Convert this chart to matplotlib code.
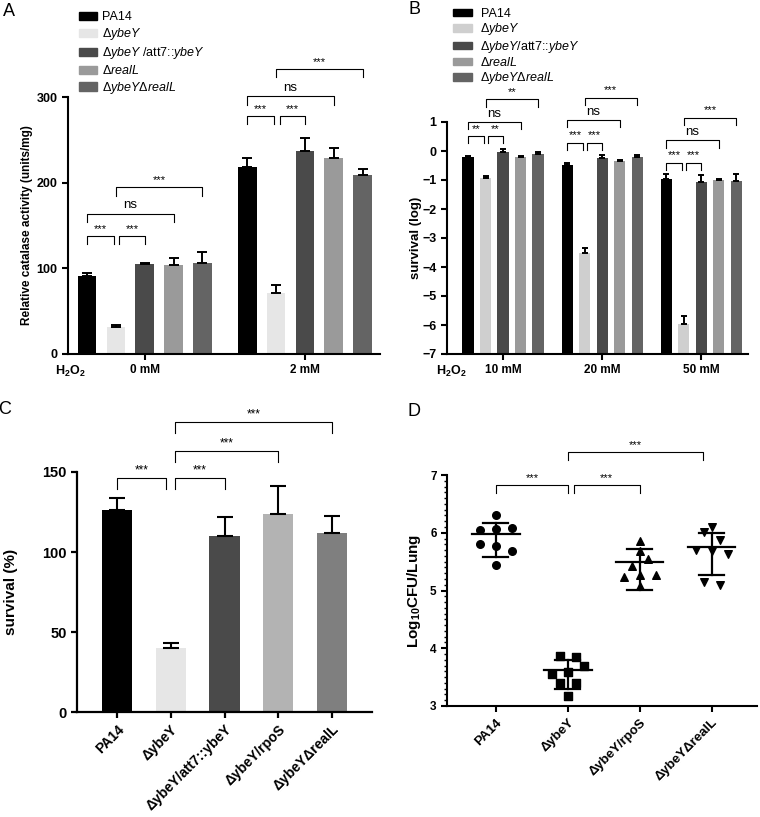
"""Four-panel figure: catalase activity, H2O2 survival, survival (%), lung CFU."""

import matplotlib
matplotlib.use("Agg")
import matplotlib.pyplot as plt
import numpy as np
from matplotlib.patches import Patch
from matplotlib.ticker import MultipleLocator

plt.rcParams["font.family"] = ["Liberation Sans", "DejaVu Sans"]
plt.rcParams["mathtext.fontset"] = "custom"
plt.rcParams["mathtext.rm"] = "Liberation Sans"
plt.rcParams["mathtext.it"] = "Liberation Sans:italic"
plt.rcParams["mathtext.bf"] = "Liberation Sans:bold"

W, H = 760, 817

# --------------------------------------------------------------------------- #
# Data
# --------------------------------------------------------------------------- #
legend_a = ["PA14", r"Δ$\mathit{ybeY}$", r"Δ$\mathit{ybeY}$ /att7::$\mathit{ybeY}$",
            r"Δ$\mathit{realL}$", r"Δ$\mathit{ybeY}$Δ$\mathit{realL}$"]
legend_b = ["PA14", r"Δ$\mathit{ybeY}$", r"Δ$\mathit{ybeY}$/att7::$\mathit{ybeY}$",
            r"Δ$\mathit{realL}$", r"Δ$\mathit{ybeY}$Δ$\mathit{realL}$"]
colors_a = ["#000000", "#e6e6e6", "#4a4a4a", "#9a9a9a", "#646464"]
colors_b = ["#000000", "#cfcfcf", "#4a4a4a", "#9a9a9a", "#646464"]

doses_a = ["0 mM", "2 mM"]
catalase = [[91, 31, 105, 104, 106], [218, 71, 237, 229, 209]]
catalase_err = [[3, 2.5, 1.2, 8, 13], [11, 10, 15, 12, 7]]
# (group, bar i, bar j, bracket y, label)
catalase_sig = [(0, 0, 1, 138, "***"), (0, 1, 2, 138, "***"), (0, 0, 3, 164, "ns"),
                (0, 1, 4, 195, "***"), (1, 0, 1, 278, "***"), (1, 1, 2, 278, "***"),
                (1, 0, 3, 301, "ns"), (1, 1, 4, 333, "***")]

doses_b = ["10 mM", "20 mM", "50 mM"]
survival_log = [[-0.2, -0.92, -0.04, -0.22, -0.1],
                [-0.47, -3.52, -0.25, -0.36, -0.22],
                [-0.97, -5.95, -1.06, -1.0, -1.02]]
survival_log_err = [[0.03, 0.05, 0.1, 0.04, 0.07],
                    [0.04, 0.18, 0.1, 0.05, 0.07],
                    [0.18, 0.27, 0.22, 0.05, 0.22]]
survival_sig = [(0, 0, 1, 0.52, "**"), (0, 1, 2, 0.52, "**"), (0, 0, 3, 1.0, "ns"),
                (0, 1, 4, 1.78, "**"), (1, 0, 1, 0.29, "***"), (1, 1, 2, 0.29, "***"),
                (1, 0, 3, 1.07, "ns"), (1, 1, 4, 1.84, "***"), (2, 0, 1, -0.4, "***"),
                (2, 1, 2, -0.4, "***"), (2, 0, 3, 0.37, "ns"), (2, 1, 4, 1.15, "***")]

strains_c = ["PA14", "ΔybeY", "ΔybeY/att7::ybeY", "ΔybeY/rpoS", "ΔybeYΔrealL"]
colors_c = ["#000000", "#e6e6e6", "#4a4a4a", "#b3b3b3", "#7f7f7f"]
survival_pct = [126, 40, 110, 124, 112]
survival_pct_err = [8, 3, 12, 17, 10.5]
survival_pct_sig = [(0, 1, 146, "***"), (1, 2, 146, "***"), (1, 3, 163, "***"), (1, 4, 181, "***")]

strains_d = ["PA14", "ΔybeY", "ΔybeY/rpoS", "ΔybeYΔrealL"]
markers_d = ["o", "s", "^", "v"]
cfu_pa14 = [6.30, 6.05, 6.07, 6.09, 5.80, 5.77, 5.69, 5.44]
cfu_ybey = [3.87, 3.84, 3.55, 3.59, 3.69, 3.39, 3.39, 3.17]
cfu_rpos = [5.86, 5.69, 5.43, 5.55, 5.23, 5.26, 5.26, 5.07]
cfu_real = [6.10, 6.02, 5.87, 5.70, 5.69, 5.64, 5.14, 5.10]
cfu_center = [5.97, 3.62, 5.50, 5.76]
cfu_upper = [6.17, 3.79, 5.72, 5.99]
cfu_lower = [5.58, 3.29, 5.01, 5.27]
cfu_sig = [(0, 1, 6.83, "***"), (1, 2, 6.83, "***"), (1, 3, 7.40, "***")]


# --------------------------------------------------------------------------- #
# Helpers
# --------------------------------------------------------------------------- #
def _box(left, top, right, bottom):
    return [left / W, 1 - bottom / H, (right - left) / W, (bottom - top) / H]


def _style(ax, lw=1.5):
    for side in ("top", "right"):
        ax.spines[side].set_visible(False)
    for side in ("left", "bottom"):
        ax.spines[side].set_linewidth(lw)
    ax.tick_params(width=lw, length=4, direction="out")


def _bracket(ax, x1, x2, y, drop, text, fs=8, pad=1.5):
    ax.plot([x1, x1, x2, x2], [y - drop, y, y, y - drop], color="black", lw=0.8,
            clip_on=False)
    ax.annotate(text, ((x1 + x2) / 2, y), xytext=(0, pad), textcoords="offset points",
                ha="center", va="bottom", fontsize=fs if text != "ns" else fs + 1.5,
                annotation_clip=False)


def _rows_scatter(values, center, row_h, step):
    """GraphPad-like scatter: bin values into rows, centre each row's points."""
    values = np.asarray(values)
    order = np.argsort(values, kind="stable")
    xs = np.zeros(len(values))
    row = [order[0]]
    rows = []
    for idx in order[1:]:
        if values[idx] - values[row[0]] <= row_h:
            row.append(idx)
        else:
            rows.append(row)
            row = [idx]
    rows.append(row)
    for r in rows:
        r = sorted(r)
        n = len(r)
        for k, idx in enumerate(r):
            xs[idx] = center + (k - (n - 1) / 2) * step
    return xs


def _grouped_bars(ax, vals, errs, colors, gap, width, bottom, capsize):
    for g, (gv, ge) in enumerate(zip(vals, errs)):
        for i, (v, e) in enumerate(zip(gv, ge)):
            x = g * gap + i
            ax.bar(x, v - bottom, bottom=bottom, width=width, color=colors[i], zorder=2)
            ax.errorbar(x, v, yerr=[[0], [e]], fmt="none", ecolor="black",
                        elinewidth=1.4, capsize=capsize, capthick=1.4, zorder=3)


fig = plt.figure(figsize=(W / 100, H / 100), dpi=100)

# --------------------------------------------------------------------------- #
# Panel A
# --------------------------------------------------------------------------- #
gap_a = 5.55
ax = fig.add_axes(_box(68, 97, 380, 354))
_style(ax)
_grouped_bars(ax, catalase, catalase_err, colors_a, gap_a, 0.65, 0, 3.6)
ax.set_ylim(0, 300)
ax.set_xlim(-0.66, 10.15)
ax.set_yticks([0, 100, 200, 300])
ax.set_xticks([g * gap_a + 2 for g in range(len(doses_a))])
ax.set_xticklabels(doses_a, fontweight="bold", fontsize=8.5)
for t in ax.get_yticklabels():
    t.set_fontweight("bold"); t.set_fontsize(9)
ax.set_ylabel("Relative catalase activity (units/mg)", fontweight="bold", fontsize=8.5)
ax.yaxis.set_label_coords(-0.112, 0.5)
for g, i, j, y, txt in catalase_sig:
    x1 = g * gap_a + i + (0.12 if (i == 1 and j == 2) else 0)
    x2 = g * gap_a + j - (0.08 if (i == 0 and j == 1) else 0)
    _bracket(ax, x1, x2, y, 10, txt)
fig.text(70 / W, 1 - 371 / H, r"$\mathbf{H_2O_2}$", ha="center", va="center", fontsize=9)
handles = [Patch(color=c) for c in colors_a]
fig.legend(handles, legend_a, loc="upper left", bbox_to_anchor=(79 / W, 1 - 11.5 / H),
           frameon=False, fontsize=9, handlelength=1.45, handleheight=0.65,
           labelspacing=0.23, handletextpad=0.4, borderpad=0, borderaxespad=0)

# --------------------------------------------------------------------------- #
# Panel B
# --------------------------------------------------------------------------- #
gap_b = 5.66
ax = fig.add_axes(_box(447, 122, 748, 354))
_style(ax)
_grouped_bars(ax, survival_log, survival_log_err, colors_b, gap_b, 0.63, -7, 2.2)
ax.set_ylim(-7, 1)
ax.set_xlim(-1.2, 16.0)
ax.set_yticks(range(-7, 2))
ax.set_xticks([g * gap_b + 2 for g in range(len(doses_b))])
ax.set_xticklabels(doses_b, fontweight="bold", fontsize=8.5)
for t in ax.get_yticklabels():
    t.set_fontweight("bold"); t.set_fontsize(9)
ax.set_ylabel("survival (log)", fontweight="bold", fontsize=9.5)
ax.yaxis.set_label_coords(-0.083, 0.5)
for g, i, j, y, txt in survival_sig:
    x1 = g * gap_b + i + (0.15 if (i == 1 and j == 2) else 0)
    x2 = g * gap_b + j - (0.1 if (i == 0 and j == 1) else 0)
    _bracket(ax, x1, x2, y, 0.25, txt)
fig.text(451 / W, 1 - 371 / H, r"$\mathbf{H_2O_2}$", ha="center", va="center", fontsize=9)
handles = [Patch(color=c) for c in colors_b]
fig.legend(handles, legend_b, loc="upper left", bbox_to_anchor=(453 / W, 1 - 8 / H),
           frameon=False, fontsize=9, handlelength=1.5, handleheight=0.55,
           labelspacing=0.11, handletextpad=0.7, borderpad=0, borderaxespad=0)

# --------------------------------------------------------------------------- #
# Panel C
# --------------------------------------------------------------------------- #
ax = fig.add_axes(_box(77, 472, 372, 712))
_style(ax, lw=1.6)
x = np.arange(len(strains_c))
ax.bar(x, survival_pct, width=0.56, color=colors_c, zorder=2)
ax.errorbar(x, survival_pct, yerr=[np.zeros(len(x)), survival_pct_err], fmt="none",
            ecolor="black", elinewidth=1.5, capsize=6, capthick=1.5, zorder=3)
ax.set_ylim(0, 150)
ax.set_xlim(-0.74, 4.74)
ax.set_yticks([0, 50, 100, 150])
ax.set_xticks(x)
ax.set_xticklabels(strains_c, rotation=45, ha="right", rotation_mode="anchor",
                   fontweight="bold", fontsize=10)
for t in ax.get_yticklabels():
    t.set_fontweight("bold"); t.set_fontsize(10.5)
ax.set_ylabel("survival (%)", fontweight="bold", fontsize=11)
ax.yaxis.set_label_coords(-0.2, 0.5)
for i, j, y, txt in survival_pct_sig:
    x1 = i + (0.08 if i == 1 else 0)
    x2 = j - (0.08 if (i == 0) else 0)
    _bracket(ax, x1, x2, y, 6.5, txt, fs=8.5)

# --------------------------------------------------------------------------- #
# Panel D
# --------------------------------------------------------------------------- #
ax = fig.add_axes(_box(447, 475, 757, 706))
_style(ax)
groups = [cfu_pa14, cfu_ybey, cfu_rpos, cfu_real]
for k, (vals, m) in enumerate(zip(groups, markers_d)):
    xs = _rows_scatter(vals, k, 0.15, 0.22)
    ax.scatter(xs, vals, marker=m, s=30, color="black", zorder=3, clip_on=False)
    ax.plot([k - 0.33, k + 0.33], [cfu_center[k]] * 2, color="black", lw=1.6)
    ax.plot([k, k], [cfu_lower[k], cfu_upper[k]], color="black", lw=1.6)
    for yv in (cfu_lower[k], cfu_upper[k]):
        ax.plot([k - 0.175, k + 0.175], [yv, yv], color="black", lw=1.6)
ax.set_ylim(3, 7)
ax.set_xlim(-0.68, 3.63)
ax.set_yticks([3, 4, 5, 6, 7])
ax.yaxis.set_minor_locator(MultipleLocator(0.1))
ax.tick_params(axis="y", which="minor", length=2.5, width=1.0)
ax.set_xticks(range(len(strains_d)))
ax.set_xticklabels(strains_d, rotation=45, ha="right", rotation_mode="anchor",
                   fontweight="bold", fontsize=9.5)
for t in ax.get_yticklabels():
    t.set_fontweight("bold"); t.set_fontsize(8.5)
ax.set_ylabel(r"$\mathbf{Log_{10}CFU/Lung}$", fontsize=11)
ax.yaxis.set_label_coords(-0.077, 0.5)
for i, j, y, txt in cfu_sig:
    x1 = i + (0.08 if (i == 1 and j == 2) else 0)
    x2 = j - (0.12 if j == 3 else 0)
    _bracket(ax, x1, x2, y, 0.14, txt, fs=8)

# Panel letters
for letter, (px, py) in zip("ABCD", [(9, 12), (414, 9), (5, 410), (414, 411)]):
    fig.text(px / W, 1 - py / H, letter, fontsize=13, ha="center", va="center")

fig.savefig("out.png", dpi=100)
